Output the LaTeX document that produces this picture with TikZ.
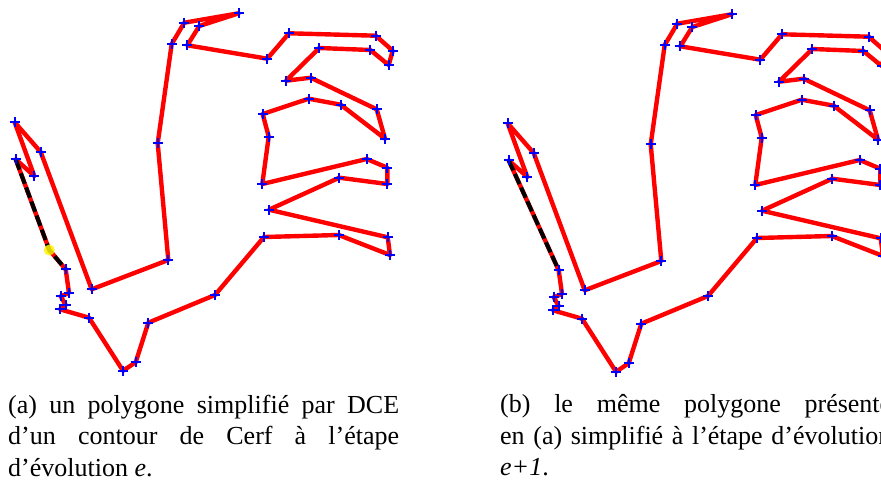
\documentclass[tikz,border=0pt]{standalone}
\usepackage{fontspec}
\setmainfont{Liberation Serif}
\tikzset{
  trait/.style={draw=red, line width=4.4pt, line join=round},
  tiret/.style={draw=black, line width=4pt, dash pattern=on 11pt off 4pt},
  sommet/.style={only marks, mark=+, mark size=5pt, mark options={blue, line width=2.2pt}},
  legende/.style={anchor=north west, inner sep=0pt, text width=391pt, align=justify,
    font=\fontsize{26}{31.5}\selectfont}
}
\def\contour#1{plot coordinates {(14.7,122.3) (40.7,152) (91.7,289.3) (168.3,260) (157.7,143.3)
  (171.7,44) (184.3,22.7) (238.7,13.3) (199.3,26) (187.3,45.3) (267.3,58.7) (289,33.3)
  (375.7,35.7) (392.7,50.7) (388.7,65) (370.3,50) (319.3,48) (286,80.7) (310.7,77.7)
  (376.7,109.3) (385,138.7) (340.7,104.7) (308.7,98.7) (262.7,114) (268.7,136.7) (262.3,184)
  (366.7,159) (387.3,167.7) (387.3,184) (339.3,177.7) (269,209.7) (387.7,237.3) (390,255)
  (338.7,235) (264,237) (215,295) (148.3,322.7) (135.7,362.3) (123,370.7) (89,317.7)
  (60,309.3) (65.7,305) (60.7,296.3) (69,293) (65.7,269.3) #1 (15.7,159.3) (34.3,176) (14.7,122.3)}}
\begin{document}
\begin{tikzpicture}[x=1pt,y=-1pt]
\useasboundingbox (0,0) rectangle (881,482);
\clip (0,0) rectangle (881,482);

	\begin{scope} % contour a l'etape e
	  \draw[trait] \contour{(49.3,250)};
	  \coordinate (debuta) at (15.7,159.3);
	  \coordinate (milieua) at (49.3,250);
	  \coordinate (fina) at (65.7,269.3);
	  \draw[tiret] (debuta) -- (milieua) -- (fina);
	  \fill[yellow, opacity=.85] (milieua) circle (5.5pt);
	  \path[sommet] \contour{};
	\end{scope}

	\begin{scope}[shift={(493,1)}] % contour a l'etape e+1
	  \draw[trait] \contour{};
	  \coordinate (debutb) at (15.7,159.3);
	  \coordinate (finb) at (65.7,269.3);
	  \draw[tiret] (debutb) -- (finb);
	  \path[sommet] \contour{};
	\end{scope}

\node[legende] (legendea) at (8,394.5) {(a) un polygone simplifié par DCE\linebreak d’un contour de Cerf à l’étape d’évolution \textit{e}.};
\node[legende] (legendeb) at (500,394.5) {(b) le même polygone présenté\linebreak en (a) simplifié à l’étape d’évolution\linebreak \textit{e+1}.};
\end{tikzpicture}
\end{document}
